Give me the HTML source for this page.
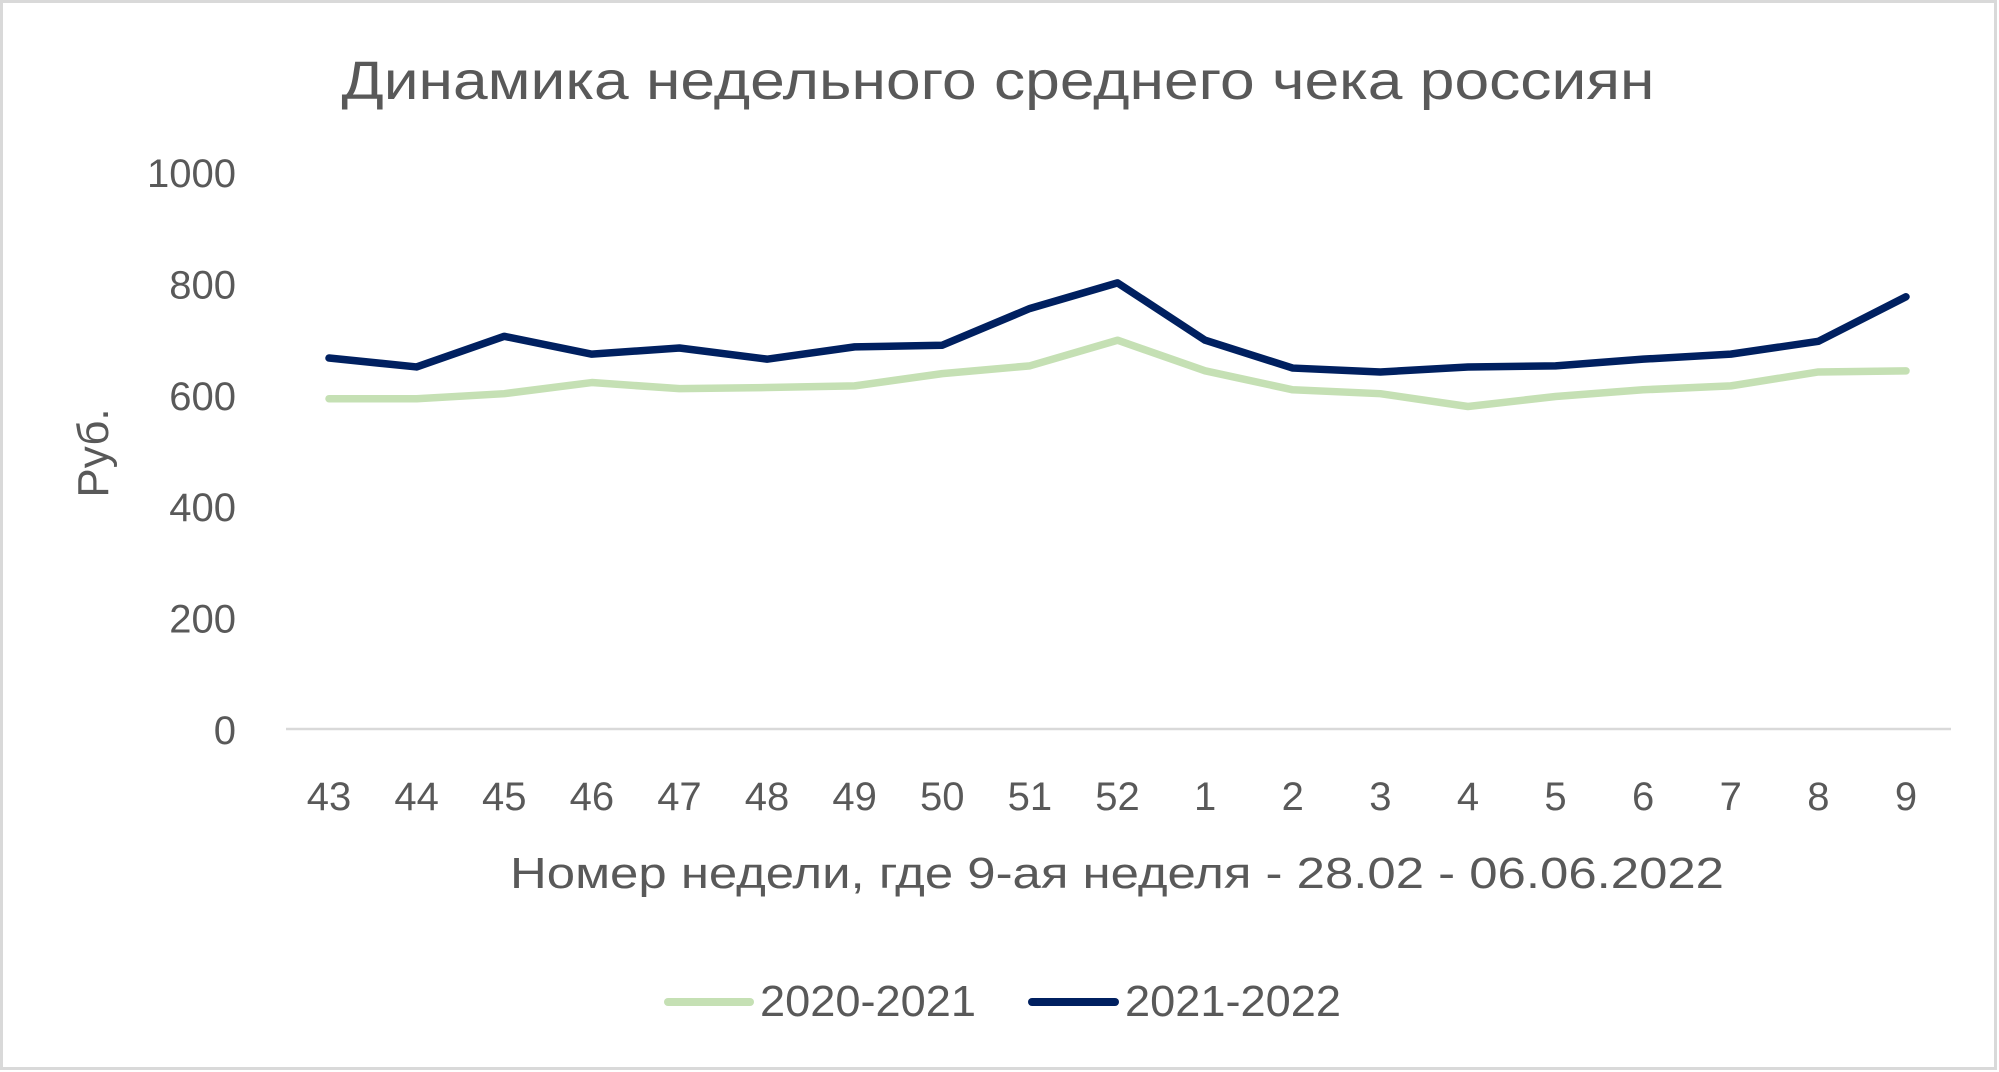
<!DOCTYPE html>
<html><head><meta charset="utf-8"><style>
html,body{margin:0;padding:0;background:#fff}
svg{display:block;font-family:"Liberation Sans",sans-serif}
</style></head><body>
<svg id="chart" width="1999" height="1072" viewBox="0 0 1999 1072">
<rect x="1.5" y="1.5" width="1994" height="1067" fill="#fff" stroke="#d9d9d9" stroke-width="3"/>
<text x="998" y="99" text-anchor="middle" font-size="54" fill="#595959" textLength="1313" lengthAdjust="spacingAndGlyphs">Динамика недельного среднего чека россиян</text>
<text transform="translate(108,453) rotate(-90)" text-anchor="middle" font-size="44" fill="#595959">Руб.</text>
<text x="1117" y="888" text-anchor="middle" font-size="44" fill="#595959" textLength="1214" lengthAdjust="spacingAndGlyphs">Номер недели, где 9-ая неделя - 28.02 - 06.06.2022</text>
<g id="yticks"></g><g id="xticks"></g><g id="series"></g>
<g>
<line x1="668" y1="1002" x2="750" y2="1002" stroke="#c5e0b4" stroke-width="8" stroke-linecap="round"/>
<text x="760" y="1016" font-size="44" fill="#595959" textLength="216" lengthAdjust="spacingAndGlyphs">2020-2021</text>
<line x1="1032" y1="1002" x2="1115" y2="1002" stroke="#002060" stroke-width="8" stroke-linecap="round"/>
<text x="1125" y="1016" font-size="44" fill="#595959" textLength="216" lengthAdjust="spacingAndGlyphs">2021-2022</text>
</g>
</svg>
<script>
const categories = ["43","44","45","46","47","48","49","50","51","52","1","2","3","4","5","6","7","8","9"];
const series2021 = [593,593,602,622,611,613,616,638,652,698,643,609,602,579,597,609,616,641,643];
const series2022 = [666,650,705,673,684,664,686,689,755,801,698,648,641,650,652,664,673,696,776];
const yTicks = [0,200,400,600,800,1000];
const NS="http://www.w3.org/2000/svg";
const x0=329, x1=1906, yBase=729, yTop=172;
function xs(i){return x0+(x1-x0)*i/(categories.length-1);}
function ys(v){return yBase-(yBase-yTop)*v/1000;}
const yt=document.getElementById('yticks');
yTicks.forEach(t=>{
  const el=document.createElementNS(NS,'text');
  el.setAttribute('x',236);el.setAttribute('y',ys(t)+15);
  el.setAttribute('text-anchor','end');el.setAttribute('font-size','40');el.setAttribute('fill','#595959');
  
  
  el.textContent=t;yt.appendChild(el);
});
const axis=document.createElementNS(NS,'line');
axis.setAttribute('x1',286);axis.setAttribute('x2',1951);axis.setAttribute('y1',ys(0));axis.setAttribute('y2',ys(0));
axis.setAttribute('stroke','#d9d9d9');axis.setAttribute('stroke-width','2.5');


yt.appendChild(axis);
const xt=document.getElementById('xticks');
categories.forEach((c,i)=>{
  const el=document.createElementNS(NS,'text');
  el.setAttribute('x',xs(i));el.setAttribute('y',810);
  el.setAttribute('text-anchor','middle');el.setAttribute('font-size','40');el.setAttribute('fill','#595959');
  
  
  el.textContent=c;xt.appendChild(el);
});
const sg=document.getElementById('series');
[[series2021,'#c5e0b4','line-2020-2021'],[series2022,'#002060','line-2021-2022']].forEach(([d,col,name])=>{
  const p=document.createElementNS(NS,'polyline');
  p.setAttribute('points',d.map((v,i)=>xs(i)+','+ys(v)).join(' '));
  p.setAttribute('fill','none');p.setAttribute('stroke',col);p.setAttribute('stroke-width','7.5');
  p.setAttribute('stroke-linejoin','round');p.setAttribute('stroke-linecap','round');
  
  
  sg.appendChild(p);
});
</script>
</body></html>
